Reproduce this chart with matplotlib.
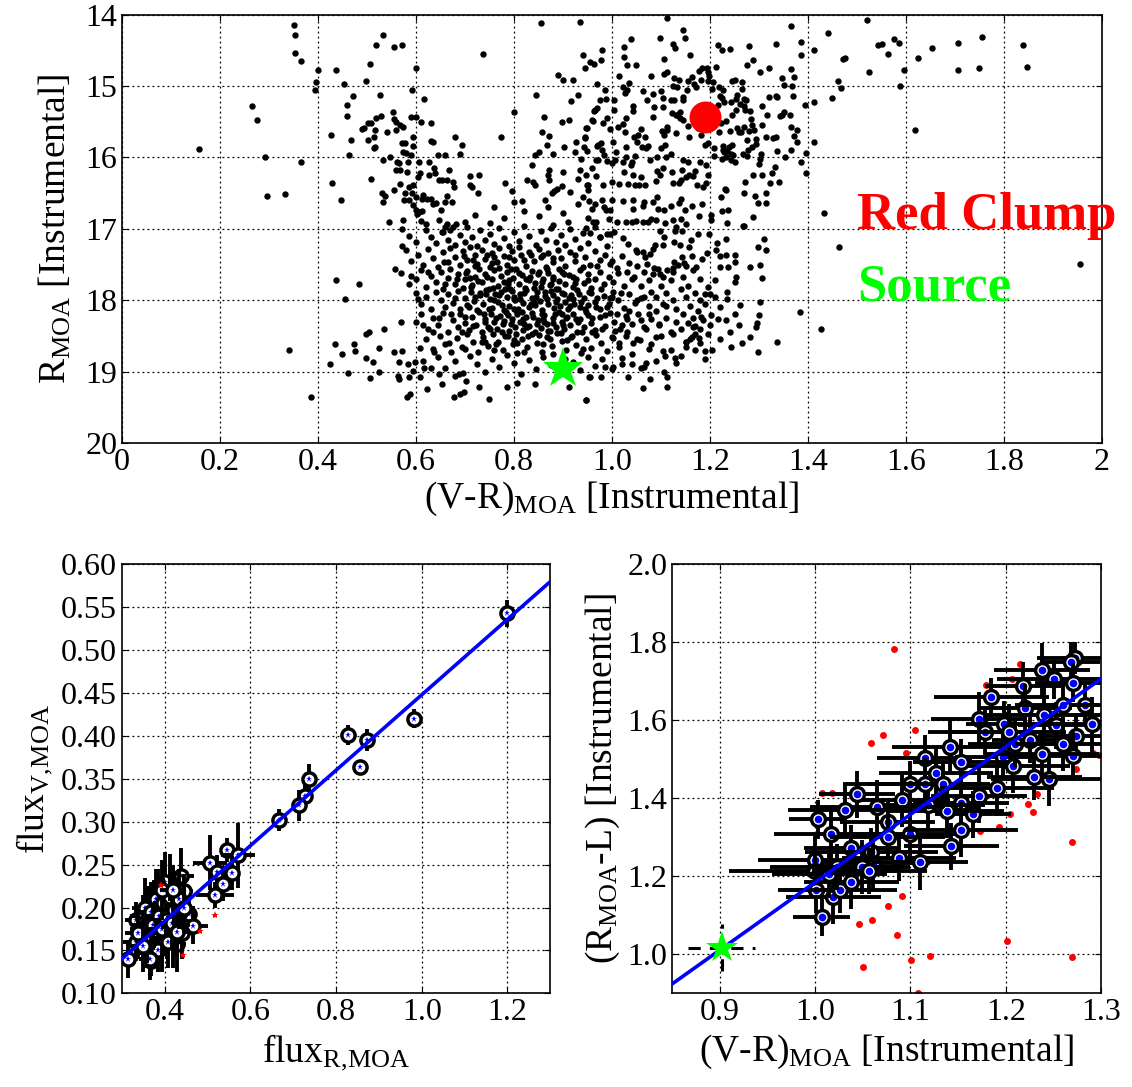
import matplotlib
matplotlib.use("Agg")
import matplotlib.pyplot as plt
import numpy as np

plt.rcParams['font.family'] = ['Liberation Serif', 'DejaVu Serif']
plt.rcParams['mathtext.fontset'] = 'custom'
plt.rcParams['mathtext.rm'] = 'Liberation Serif'
plt.rcParams['mathtext.it'] = 'Liberation Serif:italic'
plt.rcParams['mathtext.bf'] = 'Liberation Serif:bold'

# ---- top panel: CMD (colour, magnitude) ----
cmd_sparse = [
    (0.351, 14.14), (0.352, 14.29), (0.353, 14.53), (0.365, 14.65), (0.399, 14.78), (0.395, 14.95),
    (0.394, 15.06), (0.436, 14.78), (0.453, 14.97), (0.472, 15.14), (0.46, 15.26), (0.46, 15.42),
    (0.498, 14.93), (0.506, 14.69), (0.519, 14.43), (0.532, 14.29), (0.526, 15.13), (0.555, 14.45),
    (0.572, 14.42), (0.599, 14.75), (0.591, 15.06), (0.617, 15.18), (0.737, 14.55), (0.799, 15.37),
    (0.845, 15.12), (0.855, 14.12), (0.934, 14.10), (0.89, 14.85), (0.90, 14.92), (0.92, 14.91),
    (0.916, 15.21), (0.93, 15.12), (0.94, 14.57), (0.945, 14.75), (0.955, 14.67), (0.963, 14.69),
    (0.97, 14.97), (0.266, 15.28), (0.275, 15.48), (0.158, 15.88), (0.292, 16.0), (0.365, 16.07),
    (0.295, 16.54), (0.333, 16.51), (0.427, 15.68), (0.429, 16.36), (0.446, 16.59), (0.341, 18.70),
    (0.385, 19.35), (0.437, 17.72), (0.455, 17.98), (0.483, 17.78), (0.425, 18.89), (0.435, 18.62),
    (0.449, 18.76), (0.461, 19.02), (0.474, 18.62), (0.476, 18.71), (0.498, 18.48), (0.504, 18.45),
    (0.498, 18.81), (0.506, 19.09), (0.513, 18.87), (0.524, 18.67), (0.525, 19.0), (0.534, 18.40),
    (0.556, 18.72), (0.564, 19.06), (0.566, 19.11), (0.572, 18.71), (0.569, 18.31), (0.565, 18.87),
    (0.583, 18.90), (0.585, 19.08), (0.581, 19.36), (0.588, 19.32), (0.593, 18.99), (0.597, 18.86),
    (0.609, 18.67), (0.609, 19.07), (0.614, 18.85), (0.617, 18.95), (0.623, 19.25), (0.63, 18.95),
    (0.637, 18.73), (0.646, 19.04), (0.652, 19.17), (0.677, 19.36), (0.689, 19.31), (0.697, 19.29),
    (0.679, 19.06), (0.688, 19.04), (0.703, 19.13), (0.729, 19.21), (0.748, 19.38), (0.785, 19.21),
    (0.807, 19.16), (0.842, 19.18), (0.947, 19.40), (0.913, 19.21), (0.955, 19.08),
]

cmd_left_branch = [
    (0.49, 15.6), (0.494, 15.59), (0.501, 15.52), (0.509, 15.52), (0.518, 15.45), (0.529, 15.42),
    (0.516, 15.61), (0.502, 15.75), (0.514, 15.72), (0.517, 15.85), (0.514, 15.87), (0.54, 15.65),
    (0.553, 15.37), (0.555, 15.46), (0.56, 15.51), (0.559, 15.62), (0.568, 15.55), (0.573, 15.57),
    (0.547, 16.0), (0.533, 16.03), (0.467, 15.76), (0.464, 15.96), (0.509, 16.30), (0.53, 16.50),
    (0.536, 16.54), (0.532, 16.63), (0.556, 16.46), (0.567, 16.37), (0.575, 16.59), (0.545, 16.90),
    (0.572, 17.0), (0.574, 16.88), (0.572, 17.24), (0.558, 17.56), (0.561, 16.07), (0.559, 16.18),
    (0.567, 16.18), (0.566, 16.08), (0.571, 15.80), (0.577, 15.80), (0.573, 15.93), (0.579, 15.94),
    (0.583, 16.06), (0.581, 16.20), (0.589, 15.97), (0.594, 15.84), (0.59, 15.44), (0.6, 15.43),
    (0.594, 15.71), (0.61, 15.51), (0.63, 15.52), (0.606, 16.06), (0.604, 16.27), (0.608, 16.22),
    (0.594, 16.39), (0.586, 16.41), (0.591, 16.50), (0.6, 16.55), (0.578, 16.50), (0.586, 16.60),
    (0.594, 16.67), (0.599, 16.74), (0.607, 16.76), (0.613, 16.75), (0.601, 16.79), (0.611, 16.89),
    (0.62, 16.93), (0.614, 16.53), (0.613, 16.58), (0.622, 16.58), (0.626, 16.06), (0.634, 15.79),
    (0.631, 15.77), (0.644, 15.97), (0.66, 15.97), (0.637, 16.15), (0.638, 16.22), (0.627, 16.25),
    (0.646, 16.32), (0.652, 16.32), (0.668, 16.18), (0.664, 16.32), (0.68, 15.72), (0.694, 15.83),
    (0.69, 15.95), (0.675, 16.35), (0.677, 16.41), (0.71, 16.26), (0.71, 16.38), (0.729, 16.25),
    (0.714, 16.41), (0.727, 16.50), (0.773, 15.72), (0.782, 16.36), (0.795, 16.47), (0.827, 16.31),
    (0.839, 16.34), (0.843, 16.39), (0.837, 16.11), (0.842, 15.97), (0.85, 15.92), (0.862, 15.44),
    (0.857, 15.65), (0.871, 15.70), (0.867, 15.82), (0.871, 16.17), (0.871, 16.32), (0.877, 16.50),
    (0.882, 16.47), (0.888, 16.44), (0.897, 16.40), (0.863, 16.60), (0.897, 15.50), (0.912, 15.47),
    (0.902, 15.86), (0.924, 15.93), (0.926, 15.78), (0.943, 15.85), (0.937, 16.02), (0.949, 15.91),
    (0.945, 15.73), (0.949, 15.59), (0.962, 15.49), (0.964, 15.35), (0.969, 15.31), (0.972, 15.83),
    (0.972, 16.03), (0.934, 16.18), (0.951, 16.39), (0.915, 16.49), (0.817, 16.61),
    (0.630, 16.58), (0.634, 16.65), (0.64, 16.64), (0.651, 16.74), (0.66, 16.63), (0.674, 16.63),
    (0.664, 16.54), (0.647, 16.88), (0.652, 17.04), (0.66, 16.97), (0.664, 16.93), (0.669, 17.02),
    (0.681, 16.93), (0.82, 16.75), (0.85, 16.82), (0.87, 16.7), (0.9, 16.78), (0.93, 16.65),
    (0.95, 16.85), (0.96, 16.72), (0.98, 16.6), (0.91, 16.9), (0.94, 16.55), (0.88, 16.95),
    (0.78, 16.85), (0.75, 16.92), (0.72, 16.8), (0.70, 16.9), (0.76, 16.7), (0.8, 16.62),
    (0.88, 15.95), (0.9, 16.2), (0.93, 16.3), (0.96, 16.15), (0.98, 15.9), (0.95, 16.45),
    (0.87, 16.25), (0.99, 15.45), (0.975, 15.2), (0.985, 15.05),
]

cmd_giants = [
    (1.112, 14.05), (1.145, 14.21), (1.149, 14.33), (1.098, 14.33), (1.038, 14.34), (1.024, 14.45),
    (1.025, 14.59), (0.98, 14.50), (0.978, 14.64), (1.106, 14.62), (1.03, 14.71), (1.048, 14.71),
    (1.124, 14.41), (1.128, 14.46), (1.159, 14.57), (1.217, 14.43), (1.224, 14.50), (1.24, 14.48),
    (1.279, 14.44), (1.287, 14.63), (1.276, 14.71), (1.301, 14.81), (1.32, 14.75), (1.335, 14.41),
    (1.366, 14.16), (1.386, 14.38), (1.385, 14.57), (1.365, 14.76), (1.372, 14.87), (1.346, 14.89),
    (1.351, 14.98), (1.368, 15.0), (1.369, 15.14), (1.412, 14.49), (1.44, 14.25), (1.393, 15.26),
    (1.413, 15.22), (1.448, 15.17), (1.461, 14.93), (1.468, 15.03), (1.471, 14.62), (1.476, 14.60),
    (1.413, 15.79), (1.396, 15.94), (1.386, 16.07), (1.395, 16.22), (1.52, 14.08), (1.525, 14.81),
    (1.542, 14.42), (1.55, 14.41), (1.563, 14.55), (1.576, 14.34), (1.586, 14.39), (1.596, 14.78),
    (1.587, 15.0), (1.619, 15.62), (1.624, 14.61), (1.653, 14.46), (1.707, 14.39), (1.707, 14.78),
    (1.749, 14.75), (1.756, 14.31), (1.838, 14.42), (1.846, 14.74), (1.955, 17.49), (1.432, 16.78),
    (1.463, 17.25), (1.383, 18.16), (1.426, 18.41), (1.336, 18.59), (1.298, 18.73), (1.243, 18.65),
    (1.266, 18.60), (1.281, 18.51), (1.294, 18.37), (1.296, 18.32), (1.299, 18.21), (1.302, 18.03),
    (1.261, 18.07), (1.232, 18.28), (1.216, 18.26), (1.203, 18.21), (1.19, 18.83), (1.189, 18.71),
    (1.151, 18.59), (1.177, 18.53), (1.234, 17.88), (1.25, 17.75), (1.253, 17.68), (1.282, 17.54),
    (1.301, 17.51), (1.307, 17.69), (1.269, 16.96), (1.288, 16.83), (1.31, 17.14), (1.297, 17.26),
    (1.315, 17.30), (1.269, 16.50), (1.291, 16.54), (1.297, 16.64), (1.315, 16.64), (1.314, 16.50),
    (1.271, 16.34), (1.288, 16.25), (1.307, 16.24), (1.326, 16.22), (1.323, 16.36), (1.34, 16.35),
    (1.333, 16.13), (1.354, 16.0), (1.337, 15.91), (1.366, 15.90), (1.377, 15.79), (1.371, 15.70),
    (1.365, 15.57), (1.377, 15.61), (1.346, 15.40), (1.35, 15.37), (1.364, 15.41), (1.337, 15.16),
    (1.32, 15.16), (1.329, 15.73), (1.335, 15.72), (1.314, 15.71), (1.294, 15.74), (1.278, 15.90),
    (1.268, 15.95), (1.275, 15.98), (1.232, 16.0), (1.25, 16.06), (1.243, 15.95), (1.235, 15.91),
    (1.227, 15.84), (1.23, 16.44), (1.233, 16.46), (1.222, 16.56), (1.237, 16.74), (1.225, 16.75),
    (1.235, 16.92), (1.268, 16.96), (1.232, 17.14), (1.214, 17.20), (1.212, 17.29), (1.221, 17.38),
    (1.232, 17.37), (1.25, 17.37), (1.221, 17.53), (1.236, 17.53), (1.25, 17.47), (1.201, 16.87),
    (1.201, 16.81), (1.183, 16.65), (1.178, 16.82), (1.197, 17.07), (1.193, 17.34), (1.211, 17.72),
    (1.2, 17.91), (1.189, 17.91), (1.18, 18.0), (1.181, 18.24), (1.165, 18.37), (1.17, 18.47),
    (1.169, 18.36), (1.164, 18.51), (1.15, 18.59), (1.124, 18.47), (1.128, 18.81), (1.109, 18.78),
    (1.105, 18.71), (1.106, 19.0), (1.112, 19.07), (1.112, 19.21), (1.077, 19.11), (1.063, 19.23),
    (1.07, 18.88), (1.065, 18.93), (1.032, 19.08), (1.002, 18.93), (0.986, 18.93), (0.977, 19.08),
    (0.953, 19.08), (0.947, 19.40),
]

cmd_clump_region = [
    (0.987, 15.18), (1.005, 15.19), (0.965, 15.34), (1.005, 15.33), (0.96, 15.48), (0.947, 15.59),
    (0.982, 15.52), (0.996, 15.60), (1.012, 15.57), (1.022, 15.53), (1.026, 15.64), (1.028, 15.45),
    (1.042, 15.28), (1.043, 15.35), (1.045, 15.72), (1.053, 15.69), (1.05, 15.78), (1.068, 15.71),
    (1.073, 15.84), (1.06, 15.60), (1.083, 15.43), (1.086, 15.29), (1.104, 15.29), (1.113, 15.62),
    (1.112, 15.57), (1.101, 15.63), (1.107, 15.68), (1.13, 15.66), (1.133, 15.41), (1.139, 15.45),
    (1.145, 15.48), (1.155, 15.56), (1.165, 15.41), (1.17, 15.36), (1.158, 15.71), (1.181, 15.69),
    (1.175, 15.59), (1.189, 15.82), (1.196, 15.80), (1.209, 15.87), (1.209, 15.98), (1.226, 15.90),
    (1.225, 16.02), (1.229, 15.93), (1.242, 16.04), (1.247, 15.96), (1.239, 15.85), (1.245, 15.82),
    (1.219, 15.64), (1.223, 15.52), (1.232, 15.49), (1.241, 15.63), (1.255, 15.59), (1.259, 15.65),
    (1.264, 15.64), (1.27, 15.58), (1.275, 15.76), (1.279, 15.63), (1.29, 15.61), (1.293, 15.81),
    (1.285, 15.85), (1.304, 15.95), (1.301, 16.02), (1.299, 16.09), (1.286, 15.54), (1.284, 15.46),
    (1.282, 15.35), (1.271, 15.34), (1.27, 15.28), (1.253, 15.33), (1.245, 15.41), (1.242, 15.22),
    (1.253, 15.18), (1.255, 15.12), (1.265, 15.04), (1.27, 15.18), (1.273, 15.20), (1.262, 15.25),
    (1.307, 15.28), (1.307, 15.55), (1.316, 15.40), (1.334, 15.14), (1.343, 15.42), (1.216, 15.27),
    (1.229, 15.23), (1.225, 15.17), (1.227, 15.06), (1.219, 15.02), (1.205, 15.04), (1.195, 14.93),
    (1.181, 14.92), (1.197, 14.86), (1.178, 14.79), (1.184, 14.75), (1.193, 14.75), (1.196, 14.80),
    (1.213, 14.74), (1.206, 14.95), (1.245, 14.93), (1.25, 14.92), (1.265, 14.94), (1.221, 15.14),
    (1.145, 15.16), (1.139, 15.37), (1.122, 15.38), (1.13, 15.40), (1.124, 15.0), (1.132, 15.02),
    (1.155, 14.93), (1.163, 14.88), (1.167, 14.97), (1.171, 15.02), (1.153, 15.06), (1.144, 15.19),
    (1.127, 15.19), (1.12, 15.20), (1.099, 15.07), (1.104, 15.17), (1.083, 15.11), (1.071, 15.20),
    (1.063, 15.07), (1.03, 15.06), (1.026, 15.10), (1.022, 15.02), (1.015, 14.86), (1.035, 14.96),
    (1.08, 14.86), (1.106, 14.83), (1.112, 14.81), (1.127, 14.89), (1.137, 14.92),
    (0.968, 16.03), (0.983, 15.96), (0.99, 16.05), (1.0, 16.08), (1.007, 16.03), (1.022, 16.06),
    (1.029, 15.99), (1.039, 16.11), (1.041, 16.07), (1.047, 15.98), (1.042, 16.25), (1.025, 16.21),
    (1.014, 16.37), (1.0, 16.34), (0.981, 16.38), (0.949, 16.39), (0.947, 16.24), (0.968, 16.26),
    (1.032, 16.37), (1.047, 16.39), (1.055, 16.38), (1.06, 16.28), (1.068, 16.38), (1.089, 16.33),
    (1.091, 16.19), (1.097, 16.25), (1.104, 16.15), (1.123, 16.21), (1.124, 16.36), (1.136, 16.36),
    (1.141, 16.32), (1.151, 16.28), (1.157, 16.25), (1.165, 16.26), (1.173, 16.39), (1.185, 16.41),
    (1.191, 16.36), (1.196, 16.24), (1.192, 16.10), (1.18, 16.06), (1.17, 16.19), (1.155, 16.07),
    (1.145, 16.03), (1.142, 16.18), (1.121, 15.95), (1.11, 15.99), (1.1, 15.87), (1.109, 15.83),
    (1.091, 16.0), (1.078, 16.03), (1.069, 15.87), (1.061, 15.85), (1.029, 15.85), (1.009, 15.92),
    (1.002, 15.78), (0.978, 15.80), (0.969, 15.84), (0.945, 15.71),
]

cmd_mid = [
    (0.953, 16.61), (0.965, 16.65), (0.983, 16.69), (0.988, 16.74), (0.995, 16.74), (0.999, 16.60),
    (1.022, 16.61), (1.042, 16.60), (1.043, 16.72), (1.063, 16.68), (1.065, 16.63), (1.083, 16.62),
    (1.092, 16.56), (1.093, 16.72), (1.106, 16.73), (1.12, 16.68), (1.136, 16.64), (1.141, 16.58),
    (1.163, 16.68), (1.148, 16.73), (1.14, 16.86), (1.15, 16.93), (1.143, 17.03), (1.131, 16.97),
    (1.124, 16.88), (1.108, 16.92), (1.09, 16.88), (1.079, 16.86), (1.073, 16.91), (1.063, 16.90),
    (1.048, 16.89), (1.041, 16.91), (1.029, 16.90), (1.011, 16.91), (0.993, 16.86), (0.968, 16.90),
    (0.962, 16.91), (0.946, 16.99), (0.955, 17.06), (0.975, 17.11), (0.989, 17.07), (0.995, 17.07),
    (1.004, 17.05), (1.022, 17.13), (1.032, 17.21), (1.049, 17.29), (1.052, 17.33), (1.063, 17.32),
    (1.067, 17.39), (1.077, 17.35), (1.083, 17.28), (1.088, 17.22), (1.104, 17.22), (1.106, 17.11),
    (1.097, 17.03), (1.127, 17.19), (1.129, 17.03), (1.139, 17.22), (1.157, 17.25), (1.162, 17.16),
    (1.176, 17.07), (1.163, 17.38), (1.142, 17.40), (1.127, 17.46), (1.146, 17.48), (1.15, 17.52),
    (1.171, 17.53), (1.184, 17.42), (1.124, 17.55), (1.112, 17.58), (1.104, 17.67), (1.098, 17.64),
    (1.084, 17.63), (1.093, 17.57), (1.072, 17.49),
    (1.0, 17.45), (1.01, 17.55), (1.02, 17.38), (1.03, 17.6), (1.035, 17.48), (1.045, 17.68),
    (1.05, 17.52), (1.06, 17.8), (1.065, 17.6), (1.075, 17.72), (1.08, 17.88), (1.085, 17.55),
    (1.09, 17.95), (1.10, 17.8), (1.105, 18.05), (1.11, 17.9), (1.12, 17.72), (1.125, 18.0),
    (1.13, 18.12), (1.14, 17.85), (1.145, 18.2), (1.15, 17.95), (1.155, 18.32), (1.16, 18.08),
    (1.165, 18.25), (1.17, 17.9), (1.175, 18.15), (1.18, 18.4), (1.185, 18.28), (1.19, 18.05),
    (1.195, 18.48), (1.20, 18.35), (1.14, 18.4), (1.13, 18.3), (1.12, 18.45), (1.11, 18.25),
    (1.10, 18.5), (1.09, 18.15), (1.08, 18.62), (1.07, 18.4), (1.06, 18.28), (1.05, 18.55),
    (1.04, 18.75), (1.03, 18.45), (1.02, 18.9), (1.015, 18.6), (1.16, 18.55), (1.15, 18.65),
    (1.14, 18.78), (1.13, 18.88), (1.12, 18.7), (1.17, 18.7), (1.18, 18.6), (1.09, 18.85),
    (1.06, 18.95), (1.00, 17.95), (1.01, 18.2), (1.02, 18.35), (1.035, 18.15), (1.05, 18.0),
    (1.065, 17.95), (1.075, 18.2), (1.095, 18.35), (1.11, 18.08), (1.125, 17.6), (1.135, 17.5),
    (1.145, 17.68), (1.155, 17.8), (1.165, 17.58), (1.18, 17.7), (1.195, 17.82), (1.21, 17.95),
    (1.22, 18.1), (1.235, 17.98), (1.25, 18.2), (1.26, 18.35), (1.24, 18.45), (1.22, 18.55),
    (1.205, 18.7),
]

cmd_core = [
    (0.62, 17.02), (0.63, 17.12), (0.64, 17.20), (0.655, 17.05), (0.665, 17.15), (0.675, 16.98),
    (0.68, 17.22), (0.69, 17.08), (0.70, 17.18), (0.705, 16.97), (0.715, 17.11), (0.725, 17.24),
    (0.73, 17.02), (0.74, 17.16), (0.75, 17.07), (0.76, 17.21), (0.77, 16.99), (0.78, 17.13),
    (0.79, 17.24), (0.80, 17.05), (0.81, 17.17), (0.82, 16.96), (0.83, 17.10), (0.845, 17.22),
    (0.855, 17.03), (0.865, 17.15), (0.875, 16.99), (0.885, 17.19), (0.895, 17.08), (0.905, 17.23),
    (0.915, 17.0), (0.925, 17.14), (0.94, 17.06), (0.95, 17.2), (0.965, 16.98), (0.975, 17.12),
    (0.99, 17.24), (0.60, 17.18), (0.585, 17.1),
    (0.58, 17.30), (0.59, 17.45), (0.605, 17.36), (0.615, 17.5), (0.625, 17.28), (0.635, 17.41),
    (0.645, 17.53), (0.655, 17.33), (0.665, 17.46), (0.67, 17.27), (0.68, 17.39), (0.69, 17.51),
    (0.695, 17.31), (0.705, 17.44), (0.71, 17.26), (0.72, 17.36), (0.725, 17.49), (0.735, 17.29),
    (0.74, 17.42), (0.75, 17.54), (0.755, 17.34), (0.765, 17.47), (0.77, 17.27), (0.78, 17.38),
    (0.785, 17.5), (0.795, 17.31), (0.80, 17.43), (0.81, 17.26), (0.815, 17.37), (0.825, 17.52),
    (0.83, 17.32), (0.84, 17.45), (0.85, 17.28), (0.855, 17.4), (0.865, 17.53), (0.87, 17.34),
    (0.88, 17.47), (0.89, 17.29), (0.895, 17.41), (0.905, 17.52), (0.915, 17.33), (0.925, 17.45),
    (0.935, 17.27), (0.945, 17.39), (0.955, 17.5), (0.965, 17.31), (0.975, 17.44), (0.985, 17.36),
    (0.995, 17.49), (0.76, 17.4), (0.82, 17.44), (0.86, 17.36),
    (0.57, 17.62), (0.585, 17.78), (0.60, 17.7), (0.61, 17.58), (0.62, 17.82), (0.63, 17.66),
    (0.64, 17.74), (0.65, 17.6), (0.655, 17.84), (0.665, 17.69), (0.67, 17.57), (0.68, 17.77),
    (0.685, 17.64), (0.695, 17.83), (0.70, 17.71), (0.705, 17.59), (0.715, 17.79), (0.72, 17.67),
    (0.728, 17.56), (0.735, 17.75), (0.74, 17.63), (0.748, 17.84), (0.755, 17.7), (0.76, 17.58),
    (0.767, 17.8), (0.773, 17.66), (0.78, 17.74), (0.786, 17.6), (0.792, 17.85), (0.798, 17.69),
    (0.805, 17.57), (0.81, 17.78), (0.817, 17.65), (0.823, 17.83), (0.83, 17.72), (0.836, 17.59),
    (0.842, 17.76), (0.848, 17.64), (0.855, 17.82), (0.86, 17.7), (0.867, 17.57), (0.873, 17.79),
    (0.88, 17.67), (0.886, 17.84), (0.892, 17.73), (0.898, 17.6), (0.905, 17.77), (0.912, 17.65),
    (0.92, 17.81), (0.927, 17.7), (0.935, 17.58), (0.942, 17.76), (0.95, 17.64), (0.958, 17.83),
    (0.966, 17.71), (0.975, 17.6), (0.984, 17.78), (0.993, 17.67), (1.003, 17.74), (1.012, 17.62),
    (1.025, 17.8), (1.04, 17.7), (0.59, 17.66), (0.71, 17.69), (0.79, 17.72), (0.87, 17.62),
    (0.60, 17.9), (0.61, 18.05), (0.62, 17.95), (0.63, 18.12), (0.64, 17.88), (0.65, 18.0),
    (0.66, 18.1), (0.665, 17.92), (0.675, 18.04), (0.685, 17.87), (0.69, 18.13), (0.70, 17.97),
    (0.705, 18.07), (0.712, 17.89), (0.718, 18.01), (0.725, 18.14), (0.73, 17.93), (0.737, 18.06),
    (0.743, 17.86), (0.75, 17.99), (0.755, 18.11), (0.762, 17.91), (0.768, 18.03), (0.773, 17.88),
    (0.779, 18.14), (0.785, 17.96), (0.79, 18.08), (0.796, 17.87), (0.802, 18.0), (0.808, 18.12),
    (0.813, 17.92), (0.819, 18.04), (0.825, 17.86), (0.83, 18.1), (0.836, 17.97), (0.842, 18.07),
    (0.847, 17.89), (0.853, 18.01), (0.858, 18.14), (0.864, 17.94), (0.87, 18.05), (0.875, 17.87),
    (0.881, 18.11), (0.887, 17.98), (0.893, 18.08), (0.898, 17.9), (0.904, 18.02), (0.91, 18.13),
    (0.916, 17.93), (0.922, 18.05), (0.928, 17.86), (0.935, 18.1), (0.942, 17.97), (0.95, 18.07),
    (0.958, 17.9), (0.966, 18.02), (0.975, 18.13), (0.984, 17.94), (0.993, 18.06), (1.003, 17.88),
    (1.013, 18.0), (1.024, 18.11), (1.035, 17.92), (1.047, 18.04), (1.06, 17.97), (1.075, 18.08),
    (0.76, 18.0), (0.8, 17.95), (0.84, 18.02), (0.88, 17.93), (0.92, 17.99), (0.72, 17.96),
    (0.68, 17.97),
    (0.60, 18.3), (0.61, 18.2), (0.625, 18.4), (0.635, 18.25), (0.645, 18.35), (0.655, 18.18),
    (0.665, 18.44), (0.675, 18.28), (0.685, 18.38), (0.69, 18.2), (0.70, 18.32), (0.708, 18.42),
    (0.715, 18.23), (0.722, 18.35), (0.728, 18.17), (0.735, 18.44), (0.741, 18.27), (0.747, 18.37),
    (0.753, 18.19), (0.759, 18.31), (0.765, 18.41), (0.771, 18.22), (0.777, 18.34), (0.783, 18.16),
    (0.789, 18.43), (0.795, 18.26), (0.801, 18.38), (0.807, 18.2), (0.813, 18.3), (0.819, 18.42),
    (0.825, 18.24), (0.831, 18.36), (0.837, 18.18), (0.843, 18.44), (0.849, 18.28), (0.855, 18.39),
    (0.861, 18.21), (0.867, 18.33), (0.873, 18.43), (0.879, 18.25), (0.885, 18.37), (0.891, 18.17),
    (0.897, 18.3), (0.903, 18.41), (0.909, 18.23), (0.915, 18.35), (0.921, 18.19), (0.928, 18.44),
    (0.935, 18.27), (0.942, 18.38), (0.95, 18.21), (0.958, 18.32), (0.966, 18.42), (0.975, 18.24),
    (0.985, 18.36), (0.995, 18.18), (1.005, 18.3), (1.016, 18.4), (1.028, 18.22), (1.04, 18.34),
    (1.053, 18.2), (1.066, 18.38), (1.08, 18.27), (1.095, 18.33), (0.78, 18.29), (0.82, 18.33),
    (0.86, 18.27), (0.9, 18.35), (0.74, 18.31), (0.70, 18.24),
    (0.62, 18.55), (0.635, 18.68), (0.648, 18.5), (0.66, 18.62), (0.672, 18.73), (0.683, 18.53),
    (0.694, 18.66), (0.705, 18.48), (0.716, 18.59), (0.727, 18.72), (0.737, 18.52), (0.747, 18.64),
    (0.757, 18.47), (0.767, 18.58), (0.777, 18.7), (0.787, 18.5), (0.797, 18.62), (0.807, 18.74),
    (0.817, 18.54), (0.827, 18.66), (0.837, 18.48), (0.847, 18.6), (0.857, 18.72), (0.867, 18.52),
    (0.877, 18.64), (0.887, 18.46), (0.897, 18.57), (0.907, 18.7), (0.917, 18.51), (0.927, 18.63),
    (0.937, 18.74), (0.947, 18.55), (0.957, 18.67), (0.967, 18.49), (0.978, 18.6), (0.99, 18.71),
    (1.002, 18.53), (1.015, 18.65), (1.028, 18.5), (1.042, 18.6), (1.058, 18.56), (1.075, 18.68),
    (1.09, 18.52), (0.80, 18.56), (0.86, 18.61), (0.74, 18.58),
    (0.645, 18.8), (0.66, 18.95), (0.68, 18.85), (0.695, 19.02), (0.71, 18.78), (0.725, 18.9),
    (0.74, 19.0), (0.755, 18.82), (0.77, 18.93), (0.785, 18.77), (0.80, 18.88), (0.815, 19.03),
    (0.83, 18.84), (0.845, 18.96), (0.86, 18.8), (0.875, 18.91), (0.89, 19.04), (0.92, 18.86),
    (0.935, 18.98), (0.95, 18.79), (0.965, 18.92), (0.98, 18.83), (1.0, 18.97), (1.02, 18.81),
    (1.04, 18.9), (0.905, 18.83),
]

cmd_core_fill = [
    (0.703, 17.62), (0.712, 17.81), (0.721, 17.52), (0.731, 17.9), (0.739, 18.2), (0.745, 17.68),
    (0.752, 18.4), (0.758, 17.83), (0.764, 18.25), (0.769, 17.55), (0.775, 18.07), (0.781, 18.5),
    (0.787, 17.77), (0.793, 18.33), (0.799, 17.98), (0.804, 18.47), (0.811, 17.62), (0.816, 18.16),
    (0.821, 17.9), (0.827, 18.38), (0.833, 17.68), (0.839, 18.23), (0.845, 17.95), (0.851, 18.49),
    (0.857, 17.74), (0.862, 18.3), (0.868, 17.99), (0.874, 18.55), (0.879, 17.71), (0.884, 18.19),
    (0.89, 17.85), (0.896, 18.46), (0.901, 17.64), (0.907, 18.25), (0.913, 17.97), (0.918, 18.5),
    (0.924, 17.76), (0.93, 18.3), (0.936, 18.02), (0.941, 17.54), (0.947, 18.16), (0.953, 17.88),
    (0.96, 18.45), (0.968, 18.09), (0.977, 17.84), (0.986, 18.21), (0.995, 17.97), (1.006, 18.43),
    (1.018, 17.9), (1.03, 18.27),
    (0.708, 18.1), (0.717, 18.36), (0.726, 17.73), (0.734, 18.58), (0.742, 17.92), (0.749, 18.13),
    (0.756, 17.48), (0.763, 18.62), (0.77, 17.93), (0.776, 18.45), (0.782, 17.85), (0.788, 18.21),
    (0.794, 17.56), (0.8, 18.13), (0.806, 18.6), (0.812, 17.99), (0.818, 18.27), (0.824, 17.7),
    (0.829, 18.5), (0.835, 18.05), (0.84, 17.83), (0.846, 18.34), (0.852, 17.6), (0.858, 18.2),
    (0.863, 17.88), (0.869, 18.43), (0.875, 17.78), (0.88, 18.32), (0.886, 18.03), (0.892, 17.57),
    (0.897, 18.19), (0.903, 17.91), (0.909, 18.56), (0.915, 18.08), (0.92, 17.68), (0.926, 18.26),
    (0.932, 17.92), (0.938, 18.45), (0.944, 18.12), (0.951, 17.72), (0.959, 18.25), (0.97, 17.97),
    (0.98, 18.4), (0.99, 18.1), (1.0, 18.52),
    (0.66, 17.78), (0.672, 18.2), (0.684, 17.7), (0.693, 18.45), (0.646, 18.25), (0.657, 17.46),
    (0.668, 18.6), (0.697, 17.38), (0.716, 17.44), (0.745, 17.36), (0.79, 17.4), (0.835, 17.37),
    (0.88, 17.41), (0.925, 17.37), (0.97, 17.52), (0.76, 18.7), (0.82, 18.72), (0.88, 18.75),
    (0.94, 18.69), (0.7, 18.68), (0.625, 17.6), (0.615, 18.35), (0.635, 18.45), (0.605, 17.98),
]

red_clump = (1.19, 15.43)
source_cmd = (0.899, 18.96)

# ---- bottom left: flux-flux ----
flux_r = [1.200, 0.981, 0.829, 0.872, 0.855, 0.738, 0.727, 0.713, 0.667, 0.546, 0.571, 0.506,
          0.522, 0.558, 0.536, 0.518, 0.438, 0.446, 0.458, 0.467, 0.429, 0.369, 0.314, 0.333,
          0.333, 0.345, 0.35, 0.355, 0.36, 0.362, 0.365, 0.37, 0.372, 0.375, 0.378, 0.38, 0.383,
          0.385, 0.388, 0.39, 0.392, 0.395, 0.398, 0.40, 0.402, 0.405, 0.408, 0.41, 0.412, 0.415,
          0.418, 0.42, 0.425, 0.43, 0.435, 0.44, 0.385, 0.365, 0.40,
          0.355, 0.36, 0.368, 0.374, 0.38, 0.386, 0.393, 0.397, 0.403, 0.407, 0.413, 0.417,
          0.422, 0.428, 0.433, 0.338, 0.35, 0.395, 0.42, 0.445]
flux_v = [0.543, 0.420, 0.401, 0.395, 0.364, 0.350, 0.330, 0.319, 0.302, 0.267, 0.261, 0.252,
          0.241, 0.240, 0.228, 0.215, 0.237, 0.219, 0.193, 0.178, 0.157, 0.138, 0.140, 0.160,
          0.186, 0.175, 0.19, 0.165, 0.18, 0.20, 0.155, 0.172, 0.188, 0.205, 0.165, 0.18, 0.195,
          0.21, 0.17, 0.185, 0.20, 0.16, 0.178, 0.192, 0.215, 0.17, 0.185, 0.20, 0.228, 0.175,
          0.19, 0.165, 0.205, 0.18, 0.195, 0.17, 0.15, 0.14, 0.23,
          0.20, 0.165, 0.195, 0.18, 0.21, 0.19, 0.175, 0.205, 0.185, 0.16, 0.212, 0.182,
          0.197, 0.172, 0.21, 0.17, 0.155, 0.22, 0.22, 0.20]
flux_r_err = [0.008, 0.006, 0.006, 0.008, 0.005, 0.008, 0.008, 0.010, 0.008, 0.010, 0.040, 0.040,
              0.020, 0.015, 0.015, 0.045, 0.030, 0.020, 0.015, 0.035, 0.020, 0.015, 0.025, 0.030,
              0.025, 0.025, 0.03, 0.025, 0.035, 0.025, 0.03, 0.025, 0.035, 0.025, 0.03, 0.025, 0.035,
              0.025, 0.03, 0.035, 0.025, 0.03, 0.025, 0.035, 0.025, 0.03, 0.025, 0.035, 0.025, 0.03,
              0.025, 0.035, 0.025, 0.03, 0.025, 0.025, 0.025, 0.025, 0.03,
              0.03, 0.025, 0.035, 0.03, 0.025, 0.035, 0.03, 0.025, 0.03, 0.035, 0.025, 0.03,
              0.035, 0.03, 0.025, 0.03, 0.03, 0.025, 0.03, 0.025]
flux_v_err = [0.016, 0.011, 0.012, 0.013, 0.008, 0.017, 0.014, 0.018, 0.013, 0.014, 0.038, 0.032,
              0.020, 0.020, 0.020, 0.015, 0.032, 0.020, 0.020, 0.020, 0.032, 0.018, 0.022, 0.018,
              0.02, 0.03, 0.025, 0.035, 0.03, 0.025, 0.035, 0.03, 0.035, 0.025, 0.035, 0.03, 0.025,
              0.035, 0.03, 0.035, 0.025, 0.035, 0.03, 0.035, 0.025, 0.03, 0.035, 0.03, 0.035, 0.025,
              0.03, 0.035, 0.03, 0.035, 0.025, 0.03, 0.025, 0.025, 0.035,
              0.035, 0.03, 0.035, 0.03, 0.035, 0.03, 0.035, 0.03, 0.035, 0.03, 0.035, 0.03,
              0.035, 0.03, 0.035, 0.03, 0.03, 0.035, 0.03, 0.03]
flux_r_rej = [0.517, 0.482, 0.444, 0.392]
flux_v_rej = [0.191, 0.173, 0.145, 0.226]
flux_slope, flux_intercept = 0.44, 0.008

# ---- bottom right: colour vs R-L ----
vr = [1.273, 1.269, 1.238, 1.251, 1.271, 1.218, 1.185, 1.172, 1.198, 1.178, 1.22, 1.24, 1.253,
      1.283, 1.291, 1.274, 1.271, 1.208, 1.197, 1.226, 1.245, 1.23, 1.141, 1.115, 1.127, 1.153,
      1.172, 1.166, 1.138, 1.153, 1.118, 1.099, 1.091, 1.099, 1.076, 1.065, 1.044, 1.031, 1.003,
      1.017, 1.038, 1.059, 1.061, 1.088, 1.11, 1.143, 1.153, 1.0, 1.0, 1.001, 1.007, 1.019, 1.026,
      1.038, 1.015, 1.023, 1.049, 1.057, 1.076, 1.115, 1.134, 1.191, 1.21, 1.26, 1.238, 1.26, 1.203]
rl = [1.760, 1.75, 1.729, 1.706, 1.697, 1.689, 1.659, 1.603, 1.59, 1.571, 1.633, 1.615, 1.587,
      1.64, 1.59, 1.56, 1.509, 1.484, 1.507, 1.55, 1.45, 1.455, 1.532, 1.503, 1.464, 1.493,
      1.407, 1.359, 1.368, 1.388, 1.383, 1.436, 1.397, 1.308, 1.339, 1.378, 1.41, 1.37, 1.346,
      1.308, 1.272, 1.263, 1.234, 1.248, 1.236, 1.277, 1.32, 1.243, 1.214, 1.166, 1.096, 1.147,
      1.166, 1.186, 1.205, 1.224, 1.224, 1.214, 1.301, 1.436, 1.436, 1.426, 1.54, 1.54, 1.513,
      1.64, 1.571]
vr_err = [0.04, 0.03, 0.05, 0.06, 0.04, 0.04, 0.06, 0.05, 0.04, 0.06, 0.05, 0.06, 0.04, 0.04,
          0.05, 0.04, 0.03, 0.06, 0.05, 0.04, 0.06, 0.05, 0.06, 0.05, 0.06, 0.05, 0.05, 0.04,
          0.06, 0.05, 0.06, 0.07, 0.05, 0.06, 0.05, 0.07, 0.04, 0.06, 0.03, 0.06, 0.05, 0.07,
          0.06, 0.06, 0.05, 0.05, 0.06, 0.06, 0.09, 0.04, 0.03, 0.05, 0.06, 0.05, 0.06, 0.07,
          0.05, 0.06, 0.06, 0.06, 0.05, 0.06, 0.05, 0.05, 0.06, 0.05, 0.06]
rl_err = [0.04, 0.05, 0.07, 0.05, 0.05, 0.06, 0.05, 0.07, 0.06, 0.06, 0.06, 0.07, 0.06, 0.05,
          0.07, 0.06, 0.06, 0.07, 0.06, 0.06, 0.07, 0.06, 0.07, 0.06, 0.07, 0.06, 0.07, 0.06,
          0.07, 0.06, 0.07, 0.06, 0.07, 0.07, 0.06, 0.07, 0.06, 0.07, 0.05, 0.07, 0.06, 0.06,
          0.07, 0.06, 0.07, 0.06, 0.07, 0.06, 0.06, 0.06, 0.05, 0.07, 0.06, 0.07, 0.06, 0.06,
          0.07, 0.06, 0.06, 0.07, 0.06, 0.07, 0.06, 0.07, 0.06, 0.06, 0.07]
vr_rej = [1.083, 1.007, 1.018, 1.059, 1.071, 1.105, 1.095, 1.179, 1.207, 1.215, 1.204, 1.193,
          1.173, 1.223, 1.229, 1.233, 1.274, 1.292, 1.298, 1.27, 1.27, 1.201, 1.12, 1.101, 1.108,
          1.086, 1.091, 1.076, 1.06, 1.046, 1.05]
rl_rej = [1.784, 1.415, 1.415, 1.542, 1.563, 1.575, 1.517, 1.692, 1.707, 1.744, 1.361, 1.327,
          1.317, 1.385, 1.365, 1.412, 1.476, 1.516, 1.512, 1.287, 0.992, 1.034, 0.996, 0.985, 0.902,
          1.049, 1.149, 1.123, 1.088, 1.077, 0.968]
source_vr, source_rl = 0.902, 1.017
source_vr_err, source_rl_err = 0.035, 0.06
color_slope, color_intercept = 1.738, -0.553

fig = plt.figure(figsize=(11.32, 10.87), dpi=100)
ax_top = fig.add_axes([0.1078, 0.5925, 0.8657, 0.394])
ax_bl = fig.add_axes([0.1075, 0.0862, 0.3786, 0.3945])
ax_br = fig.add_axes([0.5939, 0.0862, 0.3787, 0.3945])

tick_fs = 23
label_fs = 27
grid_style = dict(color='k', linestyle=(0, (1.5, 2.5)), linewidth=0.9)

def style_axes(ax):
    ax.grid(True, **grid_style)
    ax.set_axisbelow(True)
    ax.tick_params(direction='in', length=4, labelsize=tick_fs, top=True, right=True)
    for sp in ax.spines.values():
        sp.set_linewidth(1.2)

def point_by_point(ax, xs, ys, xe, ye, inner, inner_ms, circle_ms):
    # one errorbar per point with rising zorder, so later bars cover earlier circles
    for i, (x, y, ex, ey) in enumerate(zip(xs, ys, xe, ye)):
        z = 3 + 0.2 * i
        ax.errorbar([x], [y], xerr=[ex], yerr=[ey], fmt='o', ms=circle_ms, mfc='white',
                    mec='k', mew=2.5, ecolor='k', elinewidth=2.8, capsize=0, zorder=z)
        ax.plot([x], [y], inner, color='#0000ff', ms=inner_ms, mew=0, zorder=z + 0.15)

# top panel
cmd_all = np.array(cmd_sparse + cmd_left_branch + cmd_giants + cmd_clump_region
                   + cmd_mid + cmd_core + cmd_core_fill)
ax_top.plot(cmd_all[:, 0], cmd_all[:, 1], 'o', color='k', ms=4.6, mew=0)
ax_top.plot(*red_clump, 'o', color='#ff0000', ms=23, mew=0)
ax_top.plot(*source_cmd, '*', color='#00ff00', ms=31, mew=0)
ax_top.text(1.5, 17.0, 'Red Clump', color='#ff0000', fontsize=38, fontweight='bold')
ax_top.text(1.5, 18.0, 'Source', color='#00ff00', fontsize=38, fontweight='bold')
ax_top.set_xlim(0, 2)
ax_top.set_ylim(20, 14)
ax_top.set_xticks(np.arange(0, 2.01, 0.2))
ax_top.set_xticklabels(['0', '0.2', '0.4', '0.6', '0.8', '1.0', '1.2', '1.4', '1.6', '1.8', '2'])
ax_top.set_yticks(range(14, 21))
ax_top.set_xlabel(r'(V-R)$_{\mathrm{MOA}}$ [Instrumental]', fontsize=label_fs, labelpad=2)
ax_top.set_ylabel(r'R$_{\mathrm{MOA}}$ [Instrumental]', fontsize=label_fs, labelpad=8)
style_axes(ax_top)

# bottom left panel
xx = np.array([0.3, 1.3])
point_by_point(ax_bl, flux_r, flux_v, flux_r_err, flux_v_err, '*', 5, 9.5)
ax_bl.plot(flux_r_rej, flux_v_rej, '*', color='#ff0000', ms=6, mew=0, zorder=100)
ax_bl.plot(xx, flux_intercept + flux_slope * xx, color='#0000ff', lw=2.6, zorder=101)
ax_bl.set_xlim(0.3, 1.3)
ax_bl.set_ylim(0.10, 0.60)
ax_bl.set_xticks([0.4, 0.6, 0.8, 1.0, 1.2])
ax_bl.set_xticklabels(['0.4', '0.6', '0.8', '1.0', '1.2'])
ax_bl.set_yticks(np.arange(0.10, 0.601, 0.05))
ax_bl.set_yticklabels(['%.2f' % v for v in np.arange(0.10, 0.601, 0.05)])
ax_bl.set_xlabel(r'flux$_{\mathrm{R,\!MOA}}$', fontsize=label_fs, labelpad=4)
ax_bl.set_ylabel(r'flux$_{\mathrm{V,\!MOA}}$', fontsize=label_fs, labelpad=4)
style_axes(ax_bl)

# bottom right panel
xx = np.array([0.85, 1.3])
ax_br.plot(vr_rej, rl_rej, 'o', color='#ff0000', ms=5, mew=0, zorder=2)
point_by_point(ax_br, vr, rl, vr_err, rl_err, 'o', 5.5, 10)
eb = ax_br.errorbar([source_vr], [source_rl], xerr=[source_vr_err], yerr=[source_rl_err],
                    fmt='none', ecolor='k', elinewidth=2.2, capsize=0, zorder=100)
for lc in eb[2]:
    lc.set_linestyle((0, (4, 3)))
ax_br.plot(xx, color_intercept + color_slope * xx, color='#0000ff', lw=2.6, zorder=101)
ax_br.plot(source_vr, source_rl, '*', color='#00ff00', ms=24, mew=0, zorder=102)
ax_br.set_xlim(0.85, 1.3)
ax_br.set_ylim(0.9, 2.0)
ax_br.set_xticks([0.9, 1.0, 1.1, 1.2, 1.3])
ax_br.set_xticklabels(['0.9', '1.0', '1.1', '1.2', '1.3'])
ax_br.set_yticks([1.0, 1.2, 1.4, 1.6, 1.8, 2.0])
ax_br.set_yticklabels(['1.0', '1.2', '1.4', '1.6', '1.8', '2.0'])
ax_br.set_xlabel(r'(V-R)$_{\mathrm{MOA}}$ [Instrumental]', fontsize=label_fs, labelpad=4)
ax_br.set_ylabel(r'(R$_{\mathrm{MOA}}$-L) [Instrumental]', fontsize=label_fs, labelpad=4)
style_axes(ax_br)

fig.savefig('out.png', dpi=100)
